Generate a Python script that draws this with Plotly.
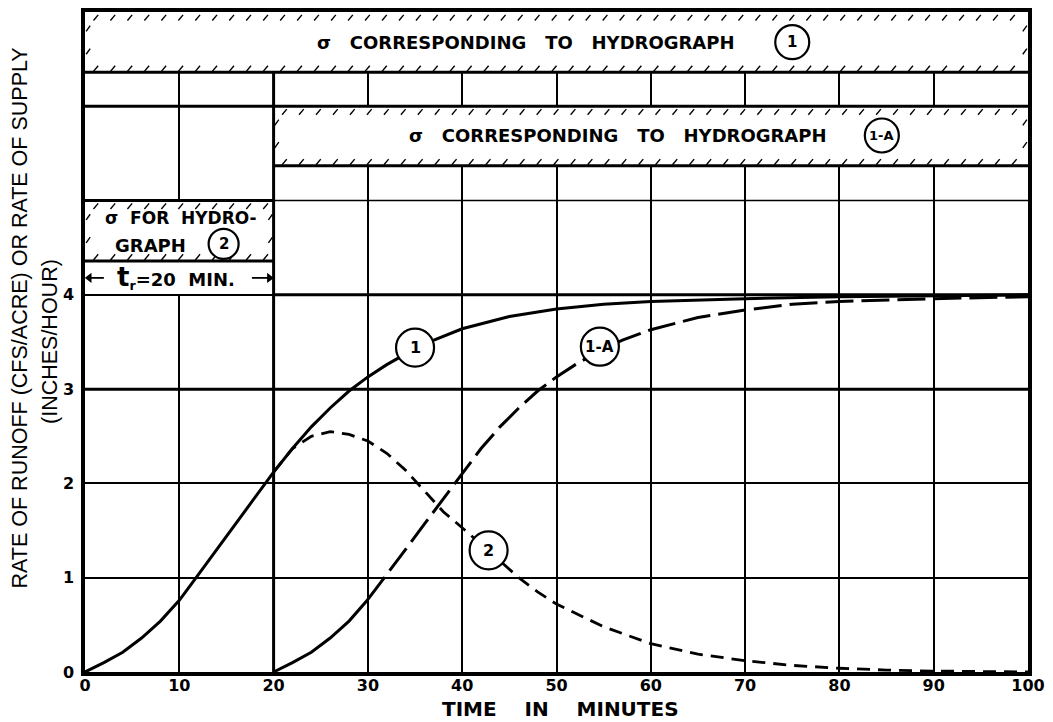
import numpy as np
import plotly.graph_objects as go

# ---------------- data ----------------
# Hydrograph 1 (solid)
t_hyd1 = [0, 2, 4, 6, 8, 10, 12, 14, 16, 18, 20, 22, 24, 26, 28, 30, 32, 35, 37, 40,
          45, 50, 55, 60, 70, 80, 90, 100]
q_hyd1 = [0, 0.1, 0.21, 0.36, 0.54, 0.76, 1.03, 1.3, 1.57, 1.84, 2.12, 2.37, 2.6, 2.8,
          2.98, 3.13, 3.26, 3.43, 3.52, 3.64, 3.77, 3.85, 3.9, 3.93, 3.96, 3.98, 3.99, 4.0]

# Hydrograph 1-A (solid start, then long dashes)
t_hyd1a = [20, 22, 24, 26, 28, 30, 32, 34, 36, 38, 40, 42, 44, 46, 48, 50, 52, 55, 57,
           60, 65, 70, 75, 80, 90, 100]
q_hyd1a = [0, 0.1, 0.21, 0.36, 0.54, 0.77, 1.03, 1.3, 1.57, 1.84, 2.1, 2.37, 2.6, 2.8,
           2.98, 3.13, 3.26, 3.43, 3.52, 3.63, 3.76, 3.84, 3.9, 3.93, 3.96, 3.98]
HYD1A_SOLID_END = 30  # minute where the 1-A line turns dashed

# Hydrograph 2 (short dashes)
t_hyd2 = [20, 22, 24, 26, 28, 30, 32, 34, 36, 38, 40, 42, 44, 46, 48, 50, 55, 60, 65,
          70, 75, 80, 85, 90, 100]
q_hyd2 = [2.12, 2.37, 2.5, 2.55, 2.52, 2.45, 2.32, 2.14, 1.92, 1.7, 1.53, 1.36, 1.18,
          1.0, 0.85, 0.72, 0.48, 0.3, 0.19, 0.12, 0.07, 0.04, 0.02, 0.01, 0.0]

x_ticks = [0, 10, 20, 30, 40, 50, 60, 70, 80, 90, 100]
y_ticks = [0, 1, 2, 3, 4]

# supply-rate (sigma) bands: (t_start, t_end, low, high)
band_1 = (0, 100, 6.36, 7.0)
band_1a = (20, 100, 5.37, 6.0)
band_2 = (0, 20, 4.36, 5.0)
tr_row = (0, 20, 4.0, 4.36)

BOLD = "DejaVu Sans"
NB = "\u00a0"

fig = go.Figure()

# ---------------- hatch marks along band edges ----------------
def hatch(b):
    x0, x1, y0, y1 = b
    xs, ys = [], []
    for x in np.arange(x0 + 0.9, x1 - 0.7, 1.8):
        xs += [x, x + 0.5, None]
        ys += [y1 - 0.09, y1 - 0.03, None]
        xs += [x, x + 0.5, None]
        ys += [y0 + 0.01, y0 + 0.07, None]
    for f in (0.3, 0.68):
        y = y0 + f * (y1 - y0)
        xs += [x0 + 0.12, x0 + 0.55, None, x1 - 0.55, x1 - 0.12, None]
        ys += [y, y + 0.06, None, y, y + 0.06, None]
    return xs, ys

hx, hy = [], []
for b in (band_1, band_1a, band_2):
    a, c = hatch(b)
    hx += a
    hy += c
fig.add_trace(go.Scatter(x=hx, y=hy, mode="lines", line=dict(color="black", width=1.4),
                         hoverinfo="skip", showlegend=False))

# t_r dimension arrows (shafts + heads), placed from the t_r row bounds
tr_mid = (tr_row[2] + tr_row[3]) / 2
fig.add_trace(go.Scatter(x=[tr_row[0] + 0.3, tr_row[0] + 2.0, None, tr_row[1] - 2.3, tr_row[1] - 0.3],
                         y=[tr_mid, tr_mid, None, tr_mid, tr_mid], mode="lines",
                         line=dict(color="black", width=1.8), hoverinfo="skip",
                         showlegend=False))
fig.add_trace(go.Scatter(x=[tr_row[0] + 0.45, tr_row[1] - 0.45], y=[tr_mid, tr_mid],
                         mode="markers", hoverinfo="skip", showlegend=False,
                         marker=dict(symbol=["triangle-left", "triangle-right"], size=9,
                                     color="black")))

# ---------------- curves ----------------
fig.add_trace(go.Scatter(x=t_hyd1, y=q_hyd1, mode="lines",
                         line=dict(color="black", width=3), showlegend=False))

idx = t_hyd1a.index(HYD1A_SOLID_END)
fig.add_trace(go.Scatter(x=t_hyd1a[:idx + 1], y=q_hyd1a[:idx + 1], mode="lines",
                         line=dict(color="black", width=3), showlegend=False))
fig.add_trace(go.Scatter(x=t_hyd1a[idx:], y=q_hyd1a[idx:], mode="lines",
                         line=dict(color="black", width=3, dash="28px,8px"),
                         showlegend=False))

fig.add_trace(go.Scatter(x=t_hyd2, y=q_hyd2, mode="lines",
                         line=dict(color="black", width=2.8, dash="13px,8px"),
                         showlegend=False))

# ---------------- shapes: band fills and heavy lines ----------------
shapes = []
for b in (band_1, band_1a, band_2, tr_row):
    shapes.append(dict(type="rect", xref="x", yref="y", x0=b[0], x1=b[1], y0=b[2], y1=b[3],
                       fillcolor="white", line=dict(width=0), layer="between"))

def hline(y, xa, xb, w=3.0):
    shapes.append(dict(type="line", xref="x", yref="y", x0=xa, x1=xb, y0=y, y1=y,
                       line=dict(color="black", width=w), layer="between"))

def vline(x, ya, yb, w=3.0):
    shapes.append(dict(type="line", xref="x", yref="y", x0=x, x1=x, y0=ya, y1=yb,
                       line=dict(color="black", width=w), layer="between"))

hline(band_1[2], 0, 100)
hline(band_1a[3], 0, 100)
hline(band_1a[2], band_1a[0], band_1a[1])
hline(band_2[3], band_2[0], band_2[1])
hline(5, 20, 100, 1.6)
hline(band_2[2], band_2[0], band_2[1])
hline(4, 20, 100)
hline(4, 0, 20, 1.5)
hline(3, 0, 100)
vline(20, 0, band_1[2])

# circled labels
def circ(x, y, r):
    shapes.append(dict(type="circle", xref="x", yref="y", xsizemode="pixel",
                       ysizemode="pixel", xanchor=x, yanchor=y, x0=-r, x1=r, y0=-r, y1=r,
                       fillcolor="white", line=dict(color="black", width=2.2),
                       layer="above"))

labels = [("1", 35.0, 3.44, 19, 16), ("1-A", 54.6, 3.45, 19, 15), ("2", 42.8, 1.29, 19, 16),
          ("1", 75.0, 6.68, 17, 15), ("1-A", 84.5, 5.69, 17, 13), ("2", 14.7, 4.54, 15, 15)]
annotations = []
for txt, x, y, r, fs in labels:
    circ(x, y, r)
    annotations.append(dict(x=x, y=y, xref="x", yref="y", text=txt, showarrow=False,
                            font=dict(family=BOLD, size=fs, color="black", weight="bold")))

band_txt = "σ" + NB * 2 + " CORRESPONDING" + NB * 2 + " TO" + NB * 2 + " HYDROGRAPH"
annotations.append(dict(x=46.8, y=6.68, xref="x", yref="y", text=band_txt, showarrow=False,
                        font=dict(family=BOLD, size=18, color="black", weight="bold")))
annotations.append(dict(x=56.5, y=5.69, xref="x", yref="y", text=band_txt, showarrow=False,
                        font=dict(family=BOLD, size=18, color="black", weight="bold")))
annotations.append(dict(x=10.2, y=4.82, xref="x", yref="y",
                        text="σ" + NB + " FOR" + NB + " HYDRO-", showarrow=False,
                        font=dict(family=BOLD, size=17, color="black", weight="bold")))
annotations.append(dict(x=6.9, y=4.52, xref="x", yref="y", text="GRAPH", showarrow=False,
                        font=dict(family=BOLD, size=18, color="black", weight="bold")))
annotations.append(dict(x=9.7, y=tr_mid, xref="x", yref="y",
                        text="<span style='font-size:26px'>t</span><sub>r</sub>=20" + NB + " MIN.",
                        showarrow=False,
                        font=dict(family=BOLD, size=18, color="black", weight="bold")))

# axis titles
annotations.append(dict(x=0, y=3.75, xref="paper", yref="y", xshift=-65, textangle=-90,
                        xanchor="center", yanchor="middle",
                        text="RATE OF RUNOFF (CFS/ACRE) OR RATE OF SUPPLY", showarrow=False,
                        font=dict(family="Liberation Sans", size=21.5, color="black")))
annotations.append(dict(x=0, y=3.5, xref="paper", yref="y", xshift=-35, textangle=-90,
                        xanchor="center", yanchor="middle",
                        text="(INCHES/HOUR)", showarrow=False,
                        font=dict(family="Liberation Sans", size=21.5, color="black")))
annotations.append(dict(x=50.4, y=0, xref="x", yref="paper", yshift=-37,
                        xanchor="center", yanchor="middle",
                        text="TIME" + NB * 3 + " IN" + NB * 3 + " MINUTES", showarrow=False,
                        font=dict(family=BOLD, size=20, color="black", weight="bold")))

fig.update_layout(
    width=1053, height=722,
    margin=dict(l=77, r=33, t=0, b=58),
    paper_bgcolor="white", plot_bgcolor="white",
    shapes=shapes, annotations=annotations,
    showlegend=False,
    xaxis=dict(range=[0, 100], tickvals=x_ticks, ticktext=[str(v) for v in x_ticks],
               showgrid=True, gridcolor="black", gridwidth=1.6, zeroline=False,
               showline=True, linecolor="black", linewidth=3.5, mirror=True,
               ticks="", ticklabelstandoff=-4,
               tickfont=dict(family=BOLD, size=16, color="black", weight="bold")),
    yaxis=dict(range=[0, 7], tickvals=y_ticks, ticktext=[str(v) for v in y_ticks],
               showgrid=True, gridcolor="black", gridwidth=1.6, zeroline=False,
               showline=True, linecolor="black", linewidth=3.5, mirror=True,
               ticks="", ticklabelstandoff=4,
               tickfont=dict(family=BOLD, size=16, color="black", weight="bold")),
)

fig.write_html("out.html")
